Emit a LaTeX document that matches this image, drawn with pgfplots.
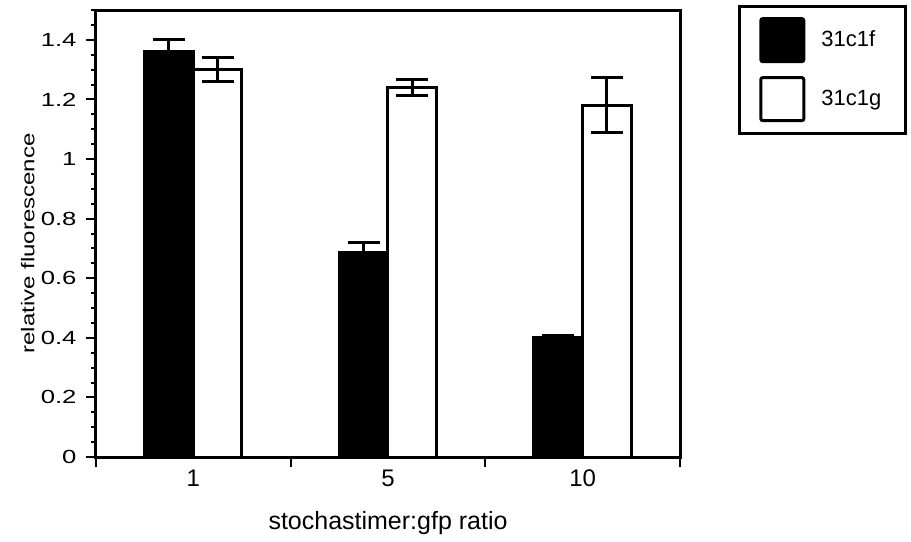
\documentclass[border=0pt]{standalone}
\usepackage{fontspec}
\setmainfont{Liberation Sans}
\usepackage{graphicx}
\usepackage{pgfplots}
\pgfplotsset{compat=1.18}

\pgfplotsset{
  sq legend/.style={legend image code/.code={
    \draw[##1, line width=1.5pt, rounded corners=1pt] (0pt,-10.75pt) rectangle (21.5pt,10.75pt);}},
}

\begin{document}
\begin{tikzpicture}
\begin{axis}[
  scale only axis, width=292pt, height=223.5pt,
  ybar=0pt, bar width=0.25,
  xmin=-0.5, xmax=2.5, ymin=0, ymax=1.5,
  xtick={-0.5,0.5,1.5,2.5}, xticklabels={},
  extra x ticks={0,1,2}, extra x tick labels={1,5,10},
  extra x tick style={major tick length=0pt,
    xticklabel style={font=\fontsize{12}{14}\selectfont, yshift=-3pt}},
  ytick={0,0.2,0.4,0.6,0.8,1,1.2,1.4},
  minor ytick={0.05,0.1,0.15,0.25,0.3,0.35,0.45,0.5,0.55,0.65,0.7,0.75,0.85,0.9,0.95,1.05,1.1,1.15,1.25,1.3,1.35,1.45,1.5},
  yticklabel style={/pgf/number format/fixed, /pgf/number format/precision=1,
    font=\fontsize{9.5}{11}\selectfont, xscale=1.35},
  /pgf/number format/assume math mode=true,
  tick align=outside, xtick pos=bottom, ytick pos=left,
  major tick length=5pt, minor tick length=2.5pt,
  axis line style={line width=1.5pt},
  every tick/.style={black, line width=1pt},
  xlabel={stochastimer:gfp ratio},
  ylabel={\scalebox{1}[0.77]{relative fluorescence}},
  every axis x label/.style={at={(axis description cs:0.5,0)}, anchor=center,
    yshift=-33pt, font=\fontsize{12.5}{14}\selectfont},
  every axis y label/.style={at={(axis description cs:-0.117,0.478)}, rotate=90,
    anchor=center, font=\fontsize{12}{14}\selectfont},
  legend style={at={(1.099,1.012)}, anchor=north west, draw=black, line width=1.5pt,
    font=\fontsize{11}{13}\selectfont, row sep=6.5pt, inner xsep=10pt, inner ysep=5.5pt},
  legend cell align=left,
]
\addplot[fill=black, draw=black, line width=1.5pt, sq legend,
  error bars/.cd, y dir=both, y explicit,
  error bar style={line width=1.5pt, black},
  error mark options={rotate=90, mark size=8pt, line width=1.5pt, black}]
  coordinates {(0,1.36) +- (0,0.04) (1,0.685) +- (0,0.035) (2,0.40) +- (0,0.008)};
\addlegendentry{\hspace{6pt}31c1f\hspace{12pt}}
\addplot[fill=white, draw=black, line width=1.5pt, sq legend,
  error bars/.cd, y dir=both, y explicit,
  error bar style={line width=1.5pt, black},
  error mark options={rotate=90, mark size=8pt, line width=1.5pt, black}]
  coordinates {(0,1.30) +- (0,0.04) (1,1.24) +- (0,0.026) (2,1.18) +- (0,0.092)};
\addlegendentry{\hspace{6pt}31c1g\hspace{12pt}}
\end{axis}
\path (-48pt,-40pt) rectangle (407.5pt,228.5pt);
\end{tikzpicture}
\end{document}
